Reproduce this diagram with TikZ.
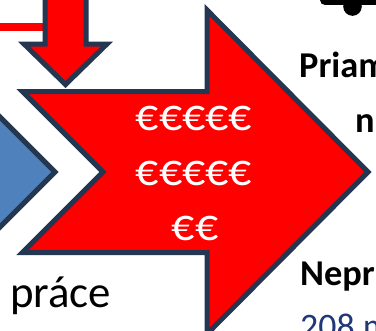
\documentclass[tikz,border=0pt]{standalone}
\usepackage{fontspec}
\setmainfont{Carlito}
\definecolor{bordernavy}{RGB}{36,54,80}
\definecolor{chevblue}{RGB}{79,129,189}
\definecolor{arrowred}{RGB}{255,0,0}
\definecolor{textnavy}{RGB}{32,56,120}
\tikzset{
  shapeborder/.style={draw=bordernavy, line width=5bp, line join=miter, miter limit=10},
  eurotext/.style={text=white, inner sep=0pt, anchor=base, font=\fontsize{46}{54}\selectfont},
  boldlabel/.style={text=black, inner sep=0pt, anchor=base west, font=\fontsize{36.5}{42}\selectfont\bfseries},
  plainlabel/.style={inner sep=0pt, anchor=base west},
  linkline/.style={draw=arrowred, line width=8bp}
}
\begin{document}
\begin{tikzpicture}[x=1bp,y=-1bp]
\useasboundingbox (0,0) rectangle (376,331);
\clip (0,0) rectangle (376,331);
\fill[white] (0,0) rectangle (376,331);
% blue chevron (partly visible)
\path[shapeborder, fill=chevblue] (-200,91.5) -- (-25.5,91.5) -- (55,172) -- (-25.5,252.5) -- (-200,252.5) -- cycle;
% big red arrow
\path[shapeborder, fill=arrowred] (22.5,91.5) -- (207,91.5) -- (207,10) -- (368,172) -- (207,334) -- (207,252.5) -- (22.5,252.5) -- (103,172) -- cycle;
% red connector line
\coordinate (lineStart) at (-5,27);
\coordinate (shaftLeft) at (45,27);
\draw[linkline] (lineStart) -- (shaftLeft);
% down arrow
\path[shapeborder, fill=arrowred] (45,-10) -- (45,44) -- (24,44) -- (65.5,84.5) -- (107,44) -- (86,44) -- (86,-10) -- cycle;
% top-right black mark
\draw[black, line width=10bp, line cap=round] (325,0) -- (400,0);
\fill[black] (352.5,6.5) circle (9.3);
% euro text
\node[eurotext] (eur1) at (194,130) {€€€€€};
\node[eurotext] (eur2) at (194,185) {€€€€€};
\node[eurotext] (eur3) at (195,240) {€€};
% labels
\node[plainlabel, font=\fontsize{45}{52}\selectfont] (prace) at (10,307) {práce};
\node[boldlabel] (prian) at (299,77) {Priam};
\node[boldlabel] (nline) at (355,132) {n};
\node[boldlabel] (nepr) at (300,285) {Nepr};
\node[plainlabel, text=textnavy, font=\fontsize{36}{42}\selectfont] (num) at (300,338) {208 m};
\end{tikzpicture}
\end{document}
